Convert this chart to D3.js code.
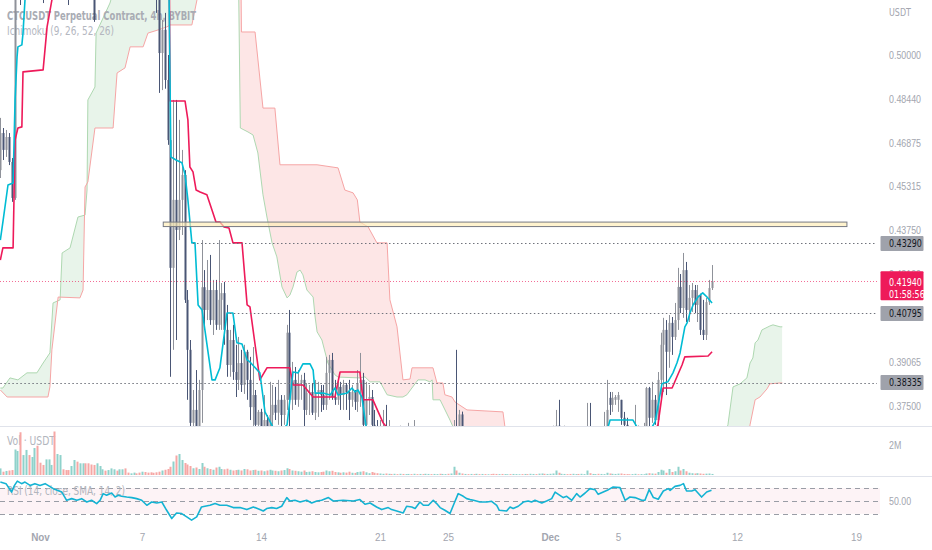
<!DOCTYPE html>
<html><head><meta charset="utf-8">
<script src="https://cdn.jsdelivr.net/npm/d3@7"></script>
<style>
html,body{margin:0;padding:0;background:#fff;overflow:hidden;}
svg{display:block;font-family:"Liberation Sans Narrow","DejaVu Sans Condensed",Roboto,sans-serif;}
</style></head><body>
<svg id="chart" width="932" height="550"></svg>
<script>
// ---------- DATA ----------
const firstIndex = -14; // candle index of first bar (index 0 = Nov 1 00:00, 4h bars)
// [open, high, low, close]
const ohlc = [
[.4590,.4776,.4562,.4722],[.4722,.4740,.4626,.4662],[.4662,.4733,.4637,.4708],[.4708,.4722,.4608,.4619],[.4619,.4633,.4477,.4491],[.4491,.5480,.4484,.5340],[.534,.552,.525,.545],[.545,.560,.5178,.530],[.530,.556,.527,.552],[.552,.575,.545,.570],[.570,.585,.560,.566],[.566,.580,.552,.575],[.575,.590,.565,.582],[.582,.598,.560,.568],
[.568,.580,.540,.548],[.548,.560,.5185,.545],[.545,.565,.538,.560],[.560,.578,.552,.572],[.572,.590,.565,.585],[.585,.600,.570,.578],[.578,.592,.565,.588],[.588,.605,.575,.596],[.596,.610,.580,.585],[.585,.595,.555,.560],
[.560,.570,.5178,.540],[.540,.562,.535,.556],[.556,.575,.548,.570],[.570,.582,.558,.563],[.563,.575,.550,.568],[.568,.585,.560,.578],[.578,.588,.562,.566],[.566,.572,.545,.552],[.552,.560,.535,.540],[.540,.548,.5118,.5125],
[.525,.545,.522,.538],[.538,.555,.530,.550],[.550,.565,.545,.560],[.560,.572,.552,.556],[.556,.566,.548,.562],[.562,.580,.555,.574],[.574,.590,.565,.583],[.583,.596,.572,.578],[.578,.588,.566,.584],[.584,.600,.575,.592],
[.592,.602,.578,.582],[.582,.590,.568,.575],[.575,.586,.563,.580],[.580,.594,.572,.588],[.588,.598,.575,.580],[.580,.585,.560,.566],[.566,.575,.555,.570],[.570,.578,.550,.556],[.556,.565,.540,.548],[.548,.558,.532,.540],
[.540,.548,.526,.534],[.534,.540,.515,.520],[.520,.526,.4865,.5007],[.5007,.5125,.4875,.5090],[.5090,.5150,.4880,.4911],[.4911,.5000,.4680,.4697],[.4697,.4840,.3854,.4242],[.4242,.4840,.3950,.4484],[.4484,.4840,.3985,.4377],[.4377,.4769,.4341,.4484],
[.4484,.4662,.4359,.4573],[.4573,.4590,.4117,.4128],[.4128,.4163,.3772,.3950],[.3950,.3985,.3629,.3690],[.3690,.3807,.3629,.3736],[.3736,.3878,.3620,.3665],[.3665,.3843,.3629,.3807],[.3807,.4341,.3690,.4173],[.4173,.4234,.4021,.4092],[.4092,.4270,.4056,.4163],
[.4163,.4288,.4039,.4056],[.4056,.4199,.4003,.4163],[.4163,.4199,.4021,.4039],[.4039,.4341,.4021,.4128],[.4128,.4188,.4021,.4152],[.4152,.4192,.3968,.4021],[.4021,.4110,.3854,.3896],[.3896,.4021,.3854,.3985],[.3985,.4039,.3843,.3871],[.3871,.3968,.3782,.3843],
[.3843,.3996,.3807,.3903],[.3903,.3950,.3800,.3825],[.3825,.3968,.3793,.3943],[.3943,.3950,.3772,.3843],[.3843,.3925,.3700,.3746],[.3746,.3960,.3665,.3789],[.3789,.3807,.3665,.3683],[.3683,.3736,.3629,.3729],[.3729,.3740,.3629,.3665],[.3665,.3789,.3629,.3700],
[.3700,.3718,.3612,.3630],[.3630,.3836,.3612,.3718],[.3718,.3825,.3665,.3754],[.3754,.3818,.3700,.3726],[.3726,.3843,.3683,.3772],[.3772,.3789,.3629,.3718],[.3718,.3789,.3683,.3772],[.3772,.4039,.3736,.4011],[.4011,.4092,.3665,.3772],[.3772,.3907,.3736,.3843],
[.3843,.3889,.3754,.3772],[.3772,.3878,.3747,.3832],[.3832,.3861,.3772,.3843],[.3843,.3868,.3665,.3736],[.3736,.3832,.3718,.3797],[.3797,.3825,.3718,.3800],[.3800,.3832,.3718,.3726],[.3726,.3843,.3700,.3797],[.3797,.3836,.3711,.3807],[.3807,.3825,.3729,.3789],
[.3789,.3825,.3736,.3754],[.3754,.3925,.3736,.3868],[.3868,.3932,.3772,.3914],[.3914,.3939,.3772,.3782],[.3782,.3843,.3754,.3772],[.3772,.3843,.3754,.3818],[.3818,.3836,.3736,.3789],[.3789,.3843,.3736,.3825],[.3825,.3832,.3736,.3800],[.3800,.3843,.3700,.3772],
[.3772,.3825,.3747,.3800],[.3800,.3807,.3736,.3765],[.3765,.3878,.3729,.3832],[.3832,.3939,.3747,.3843],[.3843,.3868,.3629,.3683],[.3683,.3836,.3629,.3772],[.3772,.3825,.3718,.3782],[.3782,.3807,.3629,.3683],[.3683,.3736,.3594,.3629],[.3629,.3700,.3558,.3594],
[.3594,.3700,.3540,.3640],[.3640,.3736,.3590,.3660],[.3660,.3754,.3580,.3600],[.3600,.3700,.3550,.3620],[.3620,.3660,.3540,.3570],[.3570,.3640,.3520,.3600],[.3600,.3630,.3530,.3560],[.3560,.3680,.3540,.3620],[.3620,.3650,.3550,.3580],[.3580,.3640,.3540,.3610],
[.3610,.3690,.3580,.3640],[.3640,.3660,.3560,.3580],[.3580,.3700,.3560,.3620],[.3620,.3650,.3540,.3560],[.3560,.3620,.3520,.3590],[.3590,.3610,.3510,.3530],[.3530,.3590,.3500,.3560],[.3560,.3620,.3540,.3600],[.3600,.3640,.3550,.3570],[.3570,.3630,.3550,.3610],
[.3610,.3660,.3580,.3640],[.3640,.3670,.3580,.3600],[.3600,.3650,.3570,.3630],[.3630,.3670,.3600,.3650],[.3650,.3670,.3580,.3610],[.3610,.3660,.3590,.3640],[.3640,.3700,.3610,.3660],[.3660,.3950,.3570,.3600],[.3600,.3736,.3570,.3720],[.3720,.3730,.3590,.3630],
[.3630,.3665,.3580,.3640],[.3640,.3660,.3570,.3590],[.3590,.3640,.3560,.3620],[.3620,.3640,.3570,.3600],[.3600,.3630,.3560,.3610],[.3610,.3625,.3560,.3580],[.3580,.3620,.3550,.3600],[.3600,.3615,.3550,.3570],[.3570,.3610,.3540,.3590],[.3590,.3600,.3530,.3550],
[.3550,.3570,.3480,.3500],[.3500,.3530,.3440,.3460],[.3460,.3500,.3430,.3480],[.3480,.3500,.3430,.3450],[.3450,.3510,.3430,.3490],[.3490,.3530,.3460,.3510],[.3510,.3520,.3460,.3480],[.3480,.3540,.3470,.3520],[.3520,.3570,.3500,.3550],[.3550,.3580,.3520,.3560],
[.3560,.3580,.3520,.3540],[.3540,.3590,.3530,.3570],[.3570,.3590,.3530,.3550],[.3550,.3600,.3530,.3580],[.3580,.3610,.3560,.3590],[.3590,.3600,.3540,.3560],[.3560,.3600,.3540,.3580],[.3580,.3620,.3560,.3600],[.3600,.3620,.3560,.3580],[.3580,.3630,.3570,.3610],
[.3610,.3650,.3590,.3630],[.3630,.3680,.3610,.3650],[.3650,.3736,.3630,.3680],[.3680,.3772,.3600,.3620],[.3620,.3660,.3590,.3640],[.3640,.3680,.3610,.3660],[.3660,.3670,.3600,.3620],[.3620,.3640,.3570,.3590],[.3590,.3640,.3570,.3620],[.3620,.3670,.3600,.3650],
[.3650,.3660,.3590,.3610],[.3610,.3650,.3590,.3640],[.3640,.3670,.3610,.3650],[.3650,.3761,.3630,.3670],[.3670,.3761,.3610,.3630],[.3630,.3670,.3600,.3650],[.3650,.3670,.3620,.3660],[.3660,.3670,.3610,.3630],[.3630,.3675,.3610,.3660],[.3660,.3729,.3640,.3670],
[.3670,.3843,.3640,.3736],[.3779,.3800,.3718,.3754],[.3754,.3800,.3729,.3779],[.3772,.3789,.3754,.3782],[.3772,.3800,.3729,.3789],[.3772,.3772,.3683,.3708],[.3708,.3729,.3640,.3683],[.3683,.3708,.3620,.3650],[.3650,.3670,.3610,.3630],[.3630,.3665,.3610,.3650],
[.3650,.3754,.3630,.3670],[.3670,.3680,.3620,.3640],[.3640,.3670,.3620,.3660],[.3660,.3690,.3640,.3675],[.3675,.3818,.3665,.3814],[.3814,.3818,.3629,.3708],[.3708,.3836,.3690,.3772],[.3772,.3789,.3683,.3700],[.3700,.3871,.3676,.3843],[.3843,.4011,.3772,.3968],
[.3968,.4064,.3800,.4021],[.4021,.4056,.3789,.3943],[.3943,.4074,.3886,.4046],[.4046,.4067,.3932,.3996],[.3996,.4117,.3985,.4056],[.4056,.4242,.4021,.4174],[.4174,.4220,.4081,.4099],[.4099,.4295,.4064,.4234],[.4234,.4263,.4049,.4092],[.4092,.4181,.4049,.4135],
[.4135,.4188,.4085,.4163],[.4163,.4181,.4081,.4110],[.4110,.4181,.4049,.4145],[.4145,.4150,.4003,.4021],[.4021,.4128,.3985,.4003],[.4003,.4135,.3985,.4120],[.4120,.4199,.4110,.4170],[.4170,.4252,.4163,.4194]
];
// volume, millions USDT, one per candle
const volumes = [
0.44,0.22,0.27,0.30,0.33,1.70,1.60,2.85,1.33,1.67,1.33,1.20,1.80,1.95,
0.82,0.67,1.04,1.04,0.67,2.90,1.40,1.33,0.38,0.33,
0.33,0.60,1.00,0.89,0.78,0.78,0.78,0.78,0.70,0.67,
0.78,0.60,0.38,0.29,0.33,0.44,0.38,0.29,0.38,0.38,
0.44,0.16,0.11,0.16,0.11,0.16,0.22,0.20,0.16,0.18,
0.15,0.18,0.22,0.30,0.35,0.40,0.55,0.90,1.30,1.40,
1.00,0.80,0.70,0.60,0.45,0.50,0.40,0.80,0.55,0.45,
0.40,0.35,0.50,0.55,0.40,0.38,0.42,0.35,0.30,0.33,
0.35,0.30,0.40,0.38,0.30,0.33,0.35,0.28,0.30,0.25,
0.30,0.35,0.30,0.28,0.25,0.30,0.33,0.45,0.40,0.30,
0.28,0.25,0.22,0.30,0.20,0.22,0.25,0.20,0.18,0.20,
0.22,0.30,0.25,0.28,0.20,0.18,0.15,0.18,0.16,0.22,
0.15,0.14,0.20,0.22,0.25,0.18,0.12,0.20,0.15,0.12,
0.10,0.08,0.10,0.08,0.07,0.08,0.06,0.08,0.07,0.06,
0.07,0.06,0.08,0.06,0.07,0.06,0.08,0.07,0.06,0.07,
0.06,0.08,0.07,0.06,0.08,0.10,0.55,0.30,0.15,0.10,
0.07,0.06,0.07,0.06,0.08,0.06,0.07,0.06,0.05,0.06,
0.08,0.07,0.06,0.07,0.06,0.05,0.06,0.07,0.06,0.05,
0.06,0.07,0.06,0.08,0.07,0.06,0.09,0.10,0.08,0.07,
0.08,0.10,0.30,0.15,0.08,0.07,0.06,0.07,0.08,0.06,
0.07,0.08,0.06,0.30,0.12,0.07,0.06,0.08,0.07,0.06,
0.15,0.10,0.08,0.07,0.09,0.10,0.07,0.06,0.05,0.06,
0.08,0.05,0.06,0.05,0.10,0.12,0.10,0.09,0.20,0.35,
0.30,0.15,0.40,0.20,0.25,0.55,0.30,0.40,0.25,0.15,
0.12,0.10,0.12,0.10,0.08,0.09,0.10,0.07
];
// Ichimoku lines: [candle index, price]
const tenkan = [[-14,.4341],[-13,.4412],[-11.3,.4537],[-9.5,.4544],[-8.8,.4840],[-8.1,.4993],[-7.8,.5029],[-6.4,.5036],[-6,.5078],[-5.3,.5196],[-5,.525],[0,.555],[20,.565],[40,.56],[45.5,.525],[46.2,.4637],[48,.4626],[50.1,.4616],[51.2,.4573],[52.2,.4484],[53.6,.4331],[54.7,.4331],[55.8,.4110],[57.2,.4092],[60.7,.3843],[61.8,.3843],[63.5,.3886],[66,.4081],[68.1,.4081],[69.5,.3975],[71.3,.3971],[73.1,.3914],[74.1,.3907],[77.6,.3868],[79.4,.3729],[82.2,.3675],[84.5,.3655],[87.2,.3683],[89.3,.3871],[91.1,.3868],[92.8,.3900],[95.3,.3900],[96.4,.3878],[97.1,.3796],[99.9,.3796],[102.4,.3789],[104.1,.3814],[105.2,.3789],[108.4,.3796],[110.1,.3814],[111.2,.3800],[112.2,.3807],[113.6,.3782],[115.1,.3675],[118,.3630],[130,.3590],[150,.3600],[165,.3520],[185,.3580],[200,.3660],[200.5,.3675],[201.2,.3700],[209.3,.3700],[210.7,.3675],[213.5,.3660],[216,.3675],[217.1,.3693],[219.5,.3829],[221.6,.3836],[223.4,.3868],[224.8,.3903],[225.9,.3939],[227.6,.4032],[228.4,.4046],[229.4,.4081],[230.5,.4110],[232.2,.4138],[233.9,.4153],[235.4,.4138],[237.2,.4117]];
const kijun = [[-14,.4270],[-13.1,.4313],[-9.5,.4313],[-8.8,.4697],[-7.8,.4740],[-6.4,.4744],[-6,.4940],[1.1,.4947],[2.5,.5100],[4.2,.5196],[5,.525],[10,.545],[40,.556],[45.5,.55],[45.9,.4836],[51.2,.4836],[52.2,.4769],[52.9,.4601],[54,.4584],[55.1,.4519],[56.5,.4512],[58.9,.4502],[60.7,.4448],[62.1,.4405],[63.5,.4405],[64.9,.4388],[66.7,.4384],[68.1,.4331],[71.3,.4331],[73.1,.4110],[74.1,.4103],[77.6,.3843],[80.1,.3886],[88.2,.3886],[89.3,.3825],[92.8,.3825],[96.4,.3782],[104.1,.3782],[105.9,.3871],[112.9,.3871],[114,.3772],[117.5,.3772],[121.1,.3690],[125,.3640],[140,.3600],[160,.3550],[180,.3520],[200,.3560],[215,.3620],[218.1,.3683],[219.9,.3814],[223.1,.3814],[224.8,.3854],[226.6,.3896],[227.6,.3925],[235.8,.3928],[237.2,.3943]];
const leadA = [[-14,.3814],[-13.1,.3814],[-10.6,.3850],[-7.8,.3843],[-4.6,.3868],[-1.1,.3868],[1.1,.3903],[3.5,.3939],[4.6,.4117],[7.1,.4128],[7.8,.4295],[10.6,.4313],[13.4,.4423],[15.9,.4430],[16.6,.4519],[16.9,.4840],[19.4,.4886],[19.8,.5078],[24.7,.5185],[28,.530],[40,.56],[60,.57],[69.8,.55],[70.7,.4740],[73.4,.4726],[75.2,.4715],[76.9,.4651],[78.7,.4502],[80.1,.4423],[81.9,.4331],[83.6,.4281],[85.4,.4174],[87.2,.4135],[88.2,.4145],[89.3,.4174],[90.7,.4227],[91.8,.4234],[92.8,.4217],[94.2,.4163],[96.4,.4138],[97.1,.4067],[97.8,.4014],[99.5,.3985],[101.6,.3903],[104.1,.3861],[105.2,.3853],[112.9,.3850],[114.7,.3854],[116.5,.3836],[120,.3836],[122.5,.3790],[126,.3782],[128.1,.3782],[129.5,.3790],[133.4,.3843],[135.9,.3843],[137.6,.3836],[138.4,.3843],[138.7,.3772],[141.2,.3772],[144.7,.3700],[145.8,.3675],[150,.3640],[170,.3550],[200,.3500],[225,.3520],[240,.3600],[242.8,.3683],[244.6,.3818],[247.1,.3829],[249.5,.3850],[250.6,.3903],[251.6,.3921],[252.4,.3975],[253.4,.3985],[254.8,.4021],[257.6,.4035],[258.7,.4039],[261.2,.4032],[262,.4032]];
const leadB = [[-14,.3807],[-11.6,.3782],[2.8,.3782],[3.5,.3818],[4.2,.3950],[6.4,.4138],[14.1,.4135],[15.2,.4163],[15.9,.4530],[16.9,.4548],[19.4,.4740],[25.8,.4740],[27.2,.4936],[30,.4954],[31.8,.5029],[36.4,.5029],[38.1,.5078],[41.6,.5089],[44.8,.5100],[45.9,.5107],[53.6,.5107],[55.4,.5196],[57,.53],[69.5,.56],[70.6,.56],[71.1,.5082],[75.9,.5082],[78.7,.4811],[82.9,.4811],[84.7,.4609],[97.8,.4609],[105.2,.4598],[107.6,.4519],[110.5,.4509],[112,.4484],[112.9,.4405],[115.8,.4388],[118.9,.4331],[122.5,.4331],[123.5,.4128],[126,.4032],[128.1,.3843],[130.6,.3846],[131.3,.3886],[138.7,.3886],[140.1,.3832],[142.2,.3832],[142.9,.3790],[145.4,.3782],[146.5,.3764],[150.7,.3736],[163.4,.3729],[164.1,.3675],[170,.3600],[200,.3520],[240,.3500],[250,.3640],[250.6,.3683],[252.4,.3772],[254.1,.3782],[256.6,.3811],[257.6,.3829],[261.2,.3832],[262,.3832]];
// RSI line: [candle index, value]
const rsi = [[-14,79.6],[-12,77.1],[-10,64],[-9,74.4],[-8,81.1],[-6.5,77.1],[-5.3,79.6],[-3.5,74.4],[-1.8,77.1],[0,74.4],[1.8,77.1],[4.7,69.3],[7.7,64],[9.4,51.1],[11.2,53.7],[13,51.1],[14.7,53.7],[16.5,48.4],[18.2,51.1],[20,46],[21.2,51.1],[22.3,61.5],[23.5,58.9],[25.3,62.5],[26.5,56.2],[27.6,58.9],[28.8,57.3],[30.6,56.2],[32.4,55.3],[34.1,53.7],[35.9,51.1],[37.7,43.3],[39.4,48.4],[41.2,46.9],[43,48.4],[44.7,35.5],[46.5,22.6],[48.2,31.3],[50,30.4],[51.8,25.1],[53.5,20],[55.3,25.1],[57,40.7],[58.2,41.8],[60,43.3],[61.8,46],[63.5,43.3],[65.9,43.3],[68.2,39.7],[70.6,39.7],[73,36.6],[75.3,40.7],[77.6,36.6],[78.8,34.4],[80,38.2],[81.8,39.7],[83.5,38.2],[85.3,41.8],[87.1,55.3],[88.2,50],[90,51.1],[91.8,48.4],[94.1,51.1],[95.9,46.9],[97.7,50],[99.4,51.1],[101.8,55.3],[103.5,50],[107,51.1],[110.6,50],[112.9,52.2],[114.7,44.9],[116.5,46.9],[118.8,40.7],[120.6,36.6],[122.9,39.7],[124.1,36.6],[125.9,34.4],[128.2,31.3],[129.4,41.8],[131.2,40.7],[132.4,38.2],[134.1,48.4],[135.3,43.3],[137.1,43.3],[138.8,51.1],[140,46],[141.2,39.7],[142.9,35.5],[144.7,30.4],[145.9,43.3],[147.6,61.5],[149.4,57.3],[150.6,53.7],[151.8,52.2],[153,51.1],[155.3,48.4],[157.7,48.4],[159.4,49.5],[161.2,43.3],[162.1,35.5],[164.7,34.4],[165.9,40.7],[167,38.2],[168.8,41.8],[170.6,48.4],[172.3,50],[173.5,48.4],[174.7,51.1],[177.1,46.9],[178.8,50],[180.6,53.7],[181.8,64],[183.5,58.9],[184.7,55.3],[185.9,57.3],[187.7,51.1],[189.4,61.5],[190.6,56.2],[192.4,62.5],[194.1,69.3],[195.9,67.7],[197,60.4],[198.8,64],[200.6,67.7],[202.3,71.8],[204.7,70.9],[206.5,51.1],[208.2,56.2],[210,55.3],[212.4,51.1],[213.5,51.1],[215,67.7],[216.5,55.3],[218.2,52.7],[220,65.6],[221.8,69.3],[222.4,66.7],[224.1,72.9],[225.9,74.4],[227.1,77.1],[228.2,65.6],[230,65.6],[231.2,67.7],[233.5,56.2],[235.3,64],[237,66.7]];
const rsiLevels = [70, 50, 30];
const priceTicks = [0.5, 0.4844, 0.46875, 0.45315, 0.4375, 0.4219, 0.39065, 0.375];
const timeTicks = [0, 36, 78, 120, 144, 180, 204, 246, 288];
const timeLabels = ["Nov", "7", "14", "21", "25", "Dec", "5", "12", "19"];
const levelPrices = [0.4329, 0.40795, 0.38335];
const levelStarts = [54, 67, -14];
const lastPrice = 0.4194;
const countdown = "01:58:56";
const zone = {start: 43.5, end: 284.8, top: 0.4405, bottom: 0.4389};

// ---------- LAYOUT ----------
const W = 932, plotR = 877;
const mainBottom = 426, volTop = 426, volBottom = 475.5, rsiTop = 476, rsiBottom = 525;
const axisX = 889;
const upCol = "#8f929a", downCol = "#4a5675";
const cyan = "#00bcd4", red = "#ee1a5a";
const txt = "#a3a6af";

const svg = d3.select("#chart");
const defs = svg.append("defs");
const x = d3.scaleLinear().domain([0, 288]).range([40, 856]);
const y = d3.scaleLinear().domain([0.375, 0.5]).range([406, 55]);
const yVol = d3.scaleLinear().domain([0, 2]).range([475, 445]);
const yRsi = d3.scaleLinear().domain([30, 70]).range([513.8, 488.2]);

defs.append("clipPath").attr("id", "cMain").append("rect").attr("x", 0).attr("y", 0).attr("width", plotR).attr("height", mainBottom);
defs.append("clipPath").attr("id", "cVol").append("rect").attr("x", 0).attr("y", volTop).attr("width", plotR).attr("height", volBottom - volTop);
defs.append("clipPath").attr("id", "cRsi").append("rect").attr("x", 0).attr("y", rsiTop).attr("width", plotR).attr("height", rsiBottom - rsiTop);

const areaAbove = d3.area().x(d => x(d[0])).y0(-3000).y1(d => y(d[1]));
const areaBelow = d3.area().x(d => x(d[0])).y0(3000).y1(d => y(d[1]));
defs.append("clipPath").attr("id", "aboveB").append("path").attr("d", areaAbove(leadB));
defs.append("clipPath").attr("id", "aboveA").append("path").attr("d", areaAbove(leadA));

function squeeze(sel, f) {
  sel.each(function () {
    const l = this.getComputedTextLength();
    this.setAttribute("textLength", (l * f).toFixed(2));
    this.setAttribute("lengthAdjust", "spacingAndGlyphs");
  });
}

// ---------- MAIN PANE ----------
const gMain = svg.append("g").attr("clip-path", "url(#cMain)");

// cloud fills
gMain.append("g").attr("clip-path", "url(#aboveB)").append("path").attr("d", areaBelow(leadA)).attr("fill", "#e8f4ea");
gMain.append("g").attr("clip-path", "url(#aboveA)").append("path").attr("d", areaBelow(leadB)).attr("fill", "#fde6e6");
const line = d3.line().x(d => x(d[0])).y(d => y(d[1]));
gMain.append("path").attr("d", line(leadA)).attr("fill", "none").attr("stroke", "#aed8b1").attr("stroke-width", 1);
gMain.append("path").attr("d", line(leadB)).attr("fill", "none").attr("stroke", "#f6a5a5").attr("stroke-width", 1);

// legend (over cloud, under series)
gMain.append("text").attr("x", 7).attr("y", 19.5).attr("font-size", 13).attr("font-weight", 700)
  .attr("fill", "#a9acb4").attr("textLength", 189).attr("lengthAdjust", "spacingAndGlyphs")
  .text("CTCUSDT Perpetual Contract, 4h, BYBIT");
gMain.append("text").attr("x", 7).attr("y", 35).attr("font-size", 12.5)
  .attr("fill", "#b4b7bf").attr("textLength", 107).attr("lengthAdjust", "spacingAndGlyphs")
  .text("Ichimoku (9, 26, 52, 26)");

// candles
const candles = ohlc.map((d, i) => ({k: i + firstIndex, o: d[0], h: d[1], l: d[2], c: d[3]}));
const gC = gMain.append("g");
gC.selectAll("line.w").data(candles).join("line").attr("class", "w")
  .attr("x1", d => Math.round(x(d.k)) + 0.5).attr("x2", d => Math.round(x(d.k)) + 0.5)
  .attr("y1", d => y(d.h)).attr("y2", d => y(d.l))
  .attr("stroke", d => d.c >= d.o ? upCol : downCol).attr("stroke-width", 1);
gC.selectAll("rect.b").data(candles).join("rect").attr("class", "b")
  .attr("x", d => Math.round(x(d.k)) - 0.5).attr("width", 2)
  .attr("y", d => y(Math.max(d.o, d.c)))
  .attr("height", d => Math.max(1, Math.abs(y(d.o) - y(d.c))))
  .attr("fill", d => d.c >= d.o ? upCol : downCol);

// tenkan / kijun
gMain.append("path").attr("d", line(kijun)).attr("fill", "none").attr("stroke", red).attr("stroke-width", 1.6).attr("stroke-linejoin", "round");
gMain.append("path").attr("d", line(tenkan)).attr("fill", "none").attr("stroke", cyan).attr("stroke-width", 1.6).attr("stroke-linejoin", "round");

// horizontal levels
levelPrices.forEach((p, i) => {
  gMain.append("line").attr("x1", x(levelStarts[i])).attr("x2", plotR)
    .attr("y1", Math.round(y(p)) + 0.5).attr("y2", Math.round(y(p)) + 0.5)
    .attr("stroke", "#70737c").attr("stroke-width", 1).attr("stroke-dasharray", "1.5,2.5");
});
gMain.append("line").attr("x1", 0).attr("x2", plotR)
  .attr("y1", Math.round(y(lastPrice)) + 0.5).attr("y2", Math.round(y(lastPrice)) + 0.5)
  .attr("stroke", red).attr("stroke-width", 0.8).attr("stroke-dasharray", "1,2").attr("opacity", 0.8);

// zone rectangle
gMain.append("rect").attr("x", x(zone.start)).attr("width", x(zone.end) - x(zone.start))
  .attr("y", y(zone.top)).attr("height", y(zone.bottom) - y(zone.top))
  .attr("fill", "rgba(255,236,180,0.65)").attr("stroke", "#777a83").attr("stroke-width", 1);

// ---------- VOLUME PANE ----------
const gVol = svg.append("g").attr("clip-path", "url(#cVol)");
gVol.append("text").attr("x", 7).attr("y", 445).attr("font-size", 12.5).attr("fill", "#b2b5bd")
  .attr("textLength", 48).attr("lengthAdjust", "spacingAndGlyphs").text("Vol · USDT");
gVol.selectAll("rect").data(candles).join("rect")
  .attr("x", d => Math.round(x(d.k)) - 0.5).attr("width", 2)
  .attr("y", (d, i) => yVol(volumes[i]))
  .attr("height", (d, i) => yVol(0) - yVol(volumes[i]))
  .attr("fill", d => d.c >= d.o ? "#8fd2cb" : "#f6a7a5");

// ---------- RSI PANE ----------
const gR = svg.append("g");
gR.append("rect").attr("x", 0).attr("width", 880).attr("y", yRsi(70)).attr("height", yRsi(30) - yRsi(70)).attr("fill", "#fdf3f6");
gR.selectAll("line.lv").data(rsiLevels).join("line").attr("class", "lv")
  .attr("x1", 0).attr("x2", 880).attr("y1", d => Math.round(yRsi(d)) + 0.5).attr("y2", d => Math.round(yRsi(d)) + 0.5)
  .attr("stroke", "#9a9da6").attr("stroke-width", 1).attr("stroke-dasharray", "5,4");
gR.append("text").attr("x", 7).attr("y", 494.5).attr("font-size", 12.5).attr("fill", "#b2b5bd")
  .attr("textLength", 118).attr("lengthAdjust", "spacingAndGlyphs").text("RSI (14, close, SMA, 14, 2)");
const rsiLine = d3.line().x(d => x(d[0])).y(d => yRsi(d[1]));
svg.append("g").attr("clip-path", "url(#cRsi)").append("path").attr("d", rsiLine(rsi))
  .attr("fill", "none").attr("stroke", "#14b3d3").attr("stroke-width", 1.6).attr("stroke-linejoin", "round");

// ---------- SEPARATORS ----------
[volTop, volBottom].forEach(v => {
  svg.append("line").attr("x1", 0).attr("x2", W).attr("y1", Math.round(v) + 0.5).attr("y2", Math.round(v) + 0.5)
    .attr("stroke", "#e0e3eb").attr("stroke-width", 1);
});

// ---------- PRICE AXIS ----------
const fontAxis = 10.5;
const rightTexts = [];
const pa = svg.append("g").attr("transform", `translate(${axisX},0)`)
  .call(d3.axisRight(y).tickValues(priceTicks).tickFormat(d3.format(".5f")).tickSize(0).tickPadding(0));
pa.select(".domain").remove();
pa.selectAll("text").attr("fill", txt).attr("font-size", fontAxis).attr("font-family", null);
rightTexts.push(pa.selectAll("text"));
rightTexts.push(svg.append("text").attr("x", axisX).attr("y", 16).attr("font-size", fontAxis).attr("fill", txt).text("USDT"));

// price label boxes
levelPrices.forEach(p => {
  const cy = y(p);
  svg.append("rect").attr("x", 880.5).attr("y", cy - 7.5).attr("width", 43).attr("height", 15).attr("rx", 1).attr("fill", "#9fa2ab");
  rightTexts.push(svg.append("text").attr("x", axisX).attr("y", cy + 3.8).attr("font-size", fontAxis).attr("fill", "#131722").text(d3.format(".5f")(p)));
});
{
  const cy = y(lastPrice);
  svg.append("rect").attr("x", 880.5).attr("y", cy - 10).attr("width", 43).attr("height", 29).attr("rx", 1).attr("fill", red);
  rightTexts.push(svg.append("text").attr("x", axisX).attr("y", cy + 4.3).attr("font-size", fontAxis).attr("fill", "#fff").text(d3.format(".5f")(lastPrice)));
  rightTexts.push(svg.append("text").attr("x", axisX).attr("y", cy + 16.5).attr("font-size", fontAxis).attr("fill", "#fff").text(countdown));
}

// volume / rsi scale labels
const va = svg.append("g").attr("transform", `translate(${axisX},0)`)
  .call(d3.axisRight(yVol).tickValues([2]).tickFormat(d => d + "M").tickSize(0).tickPadding(0));
va.select(".domain").remove();
va.selectAll("text").attr("fill", txt).attr("font-size", fontAxis).attr("font-family", null);
rightTexts.push(va.selectAll("text"));
const ra = svg.append("g").attr("transform", `translate(${axisX},0)`)
  .call(d3.axisRight(yRsi).tickValues([50]).tickFormat(d3.format(".2f")).tickSize(0).tickPadding(0));
ra.select(".domain").remove();
ra.selectAll("text").attr("fill", txt).attr("font-size", fontAxis).attr("font-family", null);
rightTexts.push(ra.selectAll("text"));

// fit right-axis labels to the narrow face of the reference (0.50000 ≈ 32px wide)
const probe = pa.select("text").node();
const factor = Math.min(1, 32 / probe.getComputedTextLength());
rightTexts.forEach(s => squeeze(s, factor));

// ---------- TIME AXIS ----------
const ta = svg.append("g").attr("transform", "translate(0,530)")
  .call(d3.axisBottom(x).tickValues(timeTicks).tickFormat((d, i) => timeLabels[i]).tickSize(0).tickPadding(3));
ta.select(".domain").remove();
ta.selectAll("text").attr("fill", txt).attr("font-size", 11).attr("font-family", null)
  .attr("font-weight", (d, i) => /[A-Za-z]/.test(timeLabels[i]) ? 700 : 400);
squeeze(ta.selectAll("text"), Math.max(factor, 0.9));
</script>
</body></html>
